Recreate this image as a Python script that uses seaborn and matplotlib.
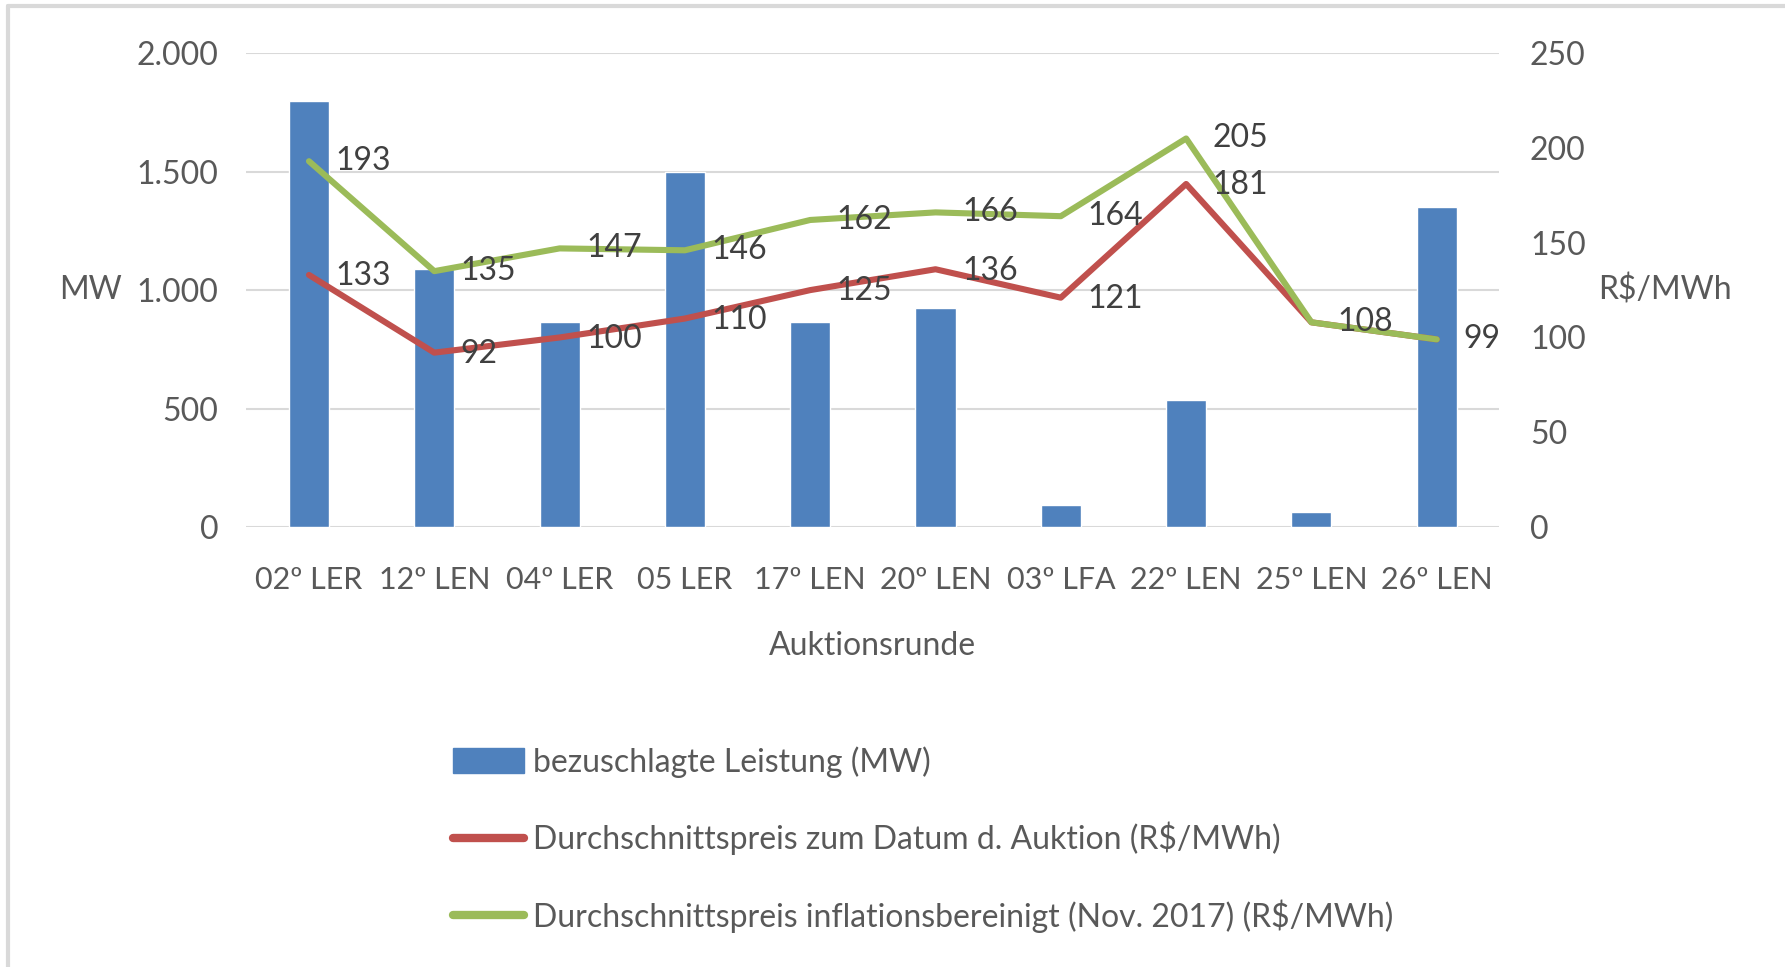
import matplotlib
matplotlib.use("Agg")
import matplotlib.pyplot as plt
from matplotlib.lines import Line2D
from matplotlib.ticker import FuncFormatter
import numpy as np
import pandas as pd
import seaborn as sns

# data
runden = ["02º LER", "12º LEN", "04º LER", "05 LER", "17º LEN",
          "20º LEN", "03º LFA", "22º LEN", "25º LEN", "26º LEN"]
leistung_mw = [1800, 1090, 865, 1500, 865, 925, 95, 535, 65, 1350]
preis_nominal = [133, 92, 100, 110, 125, 136, 121, 181, 108, 99]
preis_real = [193, 135, 147, 146, 162, 166, 164, 205, 108, 99]

lab_bar = "bezuschlagte Leistung (MW)"
lab_nom = "Durchschnittspreis zum Datum d. Auktion (R$/MWh)"
lab_real = "Durchschnittspreis inflationsbereinigt (Nov. 2017) (R$/MWh)"

blue, red, green = "#4F81BD", "#C0504D", "#9BBB59"
txt = "#595959"
grid = "#D9D9D9"

sns.set_style("white")
plt.rcParams["font.family"] = ["Lato", "DejaVu Sans"]
fs = 23

df = pd.DataFrame({"runde": runden, "mw": leistung_mw,
                   "nom": preis_nominal, "real": preis_real})
df["x"] = np.arange(len(df))

fig = plt.figure(figsize=(17.85, 9.67), dpi=100)
ax = fig.add_axes([0.138, 0.455, 0.702, 0.49])
ax2 = ax.twinx()

sns.barplot(data=df, x="runde", y="mw", color=blue, width=0.32,
            saturation=1, ax=ax, zorder=2)
ax.set_ylim(0, 2000)
ax.set_yticks([0, 500, 1000, 1500, 2000])
ax.yaxis.set_major_formatter(FuncFormatter(lambda v, p: f"{int(v):,}".replace(",", ".")))
ax.grid(axis="y", color=grid, linewidth=1.5, zorder=0)
ax.set_axisbelow(True)
ax.set_xlim(-0.5, 9.5)

sns.lineplot(data=df, x="x", y="nom", color=red, linewidth=4.4, ax=ax2)
sns.lineplot(data=df, x="x", y="real", color=green, linewidth=4.4, ax=ax2)
ax2.set_ylim(0, 250)
ax2.set_yticks([0, 50, 100, 150, 200, 250])
ax2.set_xlim(-0.5, 9.5)

# data labels, right of the points
for i, v in enumerate(preis_nominal):
    if i >= 8:
        continue
    ax2.annotate(str(v), (i, v), xytext=(19, -1), textcoords="offset points",
                 ha="left", va="center", fontsize=fs, color="#404040")
for i, v in enumerate(preis_real):
    ax2.annotate(str(v), (i, v), xytext=(19, 0), textcoords="offset points",
                 ha="left", va="center", fontsize=fs, color="#404040")

for a in (ax, ax2):
    for s in a.spines.values():
        s.set_visible(False)
    a.tick_params(length=0, labelsize=fs, labelcolor=txt)
ax.tick_params(axis="y", pad=20)
ax2.tick_params(axis="y", pad=22)
ax.tick_params(axis="x", pad=28, labelsize=22)

ax.set_xlabel("Auktionsrunde", fontsize=fs, color=txt, labelpad=27)
ax.set_ylabel("MW", fontsize=fs, color=txt, rotation=0, ha="center", va="center")
ax.yaxis.set_label_coords(-0.124, 0.5)
ax2.set_ylabel("R$/MWh", fontsize=fs, color=txt, rotation=0, ha="center", va="center")
ax2.yaxis.set_label_coords(1.132, 0.5)

handles = [plt.Rectangle((0, 0), 1, 1, color=blue),
           Line2D([], [], color=red, linewidth=6),
           Line2D([], [], color=green, linewidth=6)]
fig.legend(handles, [lab_bar, lab_nom, lab_real], loc="upper left",
           bbox_to_anchor=(0.245, 0.245), frameon=False, fontsize=fs,
           labelcolor=txt, handlelength=2.2, handleheight=0.8,
           handletextpad=0.3, labelspacing=1.38, borderpad=0)

# light frame at top and left, as in the screenshot
fig.add_artist(Line2D([0.0045, 1], [0.994, 0.994], color=grid, linewidth=3,
                      transform=fig.transFigure))
fig.add_artist(Line2D([0.0045, 0.0045], [0, 0.994], color=grid, linewidth=3,
                      transform=fig.transFigure))

fig.savefig("out.png", dpi=100)
